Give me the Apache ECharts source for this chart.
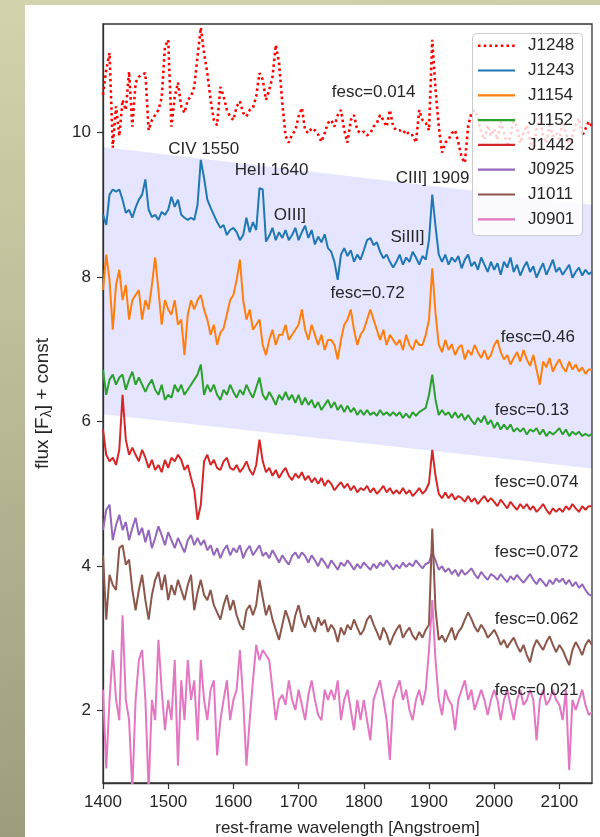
<!DOCTYPE html>
<html><head><meta charset="utf-8">
<script src="https://cdn.jsdelivr.net/npm/echarts@6/dist/echarts.min.js"></script>
<style>
html,body{margin:0;padding:0;width:600px;height:837px;overflow:hidden;}
body{background:linear-gradient(172deg,#d3d3ad 0%,#b9b995 45%,#98987a 100%);}
#panel{position:absolute;left:25px;top:5px;width:575px;height:832px;background:#fff;}
#chart{position:absolute;left:0;top:0;width:600px;height:837px;}
</style></head><body>
<div id="panel"></div><div id="chart"></div>
<script>
const wavelength = [1400,1405,1410,1415,1420,1425,1430,1435,1440,1445,
 1450,1455,1460,1465,1470,1475,1480,1485,1490,1495,
 1500,1505,1510,1515,1520,1525,1530,1535,1540,1545,
 1550,1555,1560,1565,1570,1575,1580,1585,1590,1595,
 1600,1605,1610,1615,1620,1625,1630,1635,1640,1645,
 1650,1655,1660,1665,1670,1675,1680,1685,1690,1695,
 1700,1705,1710,1715,1720,1725,1730,1735,1740,1745,
 1750,1755,1760,1765,1770,1775,1780,1785,1790,1795,
 1800,1805,1810,1815,1820,1825,1830,1835,1840,1845,
 1850,1855,1860,1865,1870,1875,1880,1885,1890,1895,
 1900,1905,1910,1915,1920,1925,1930,1935,1940,1945,
 1950,1955,1960,1965,1970,1975,1980,1985,1990,1995,
 2000,2005,2010,2015,2020,2025,2030,2035,2040,2045,
 2050,2055,2060,2065,2070,2075,2080,2085,2090,2095,
 2100,2105,2110,2115,2120,2125,2130,2135,2140,2145,
 2150];

const J1248 = [10.52,10.87,11.10,9.79,10.36,9.95,10.45,10.31,10.84,10.08,
 10.69,10.77,10.80,10.82,10.03,10.17,10.24,10.31,10.48,11.19,
 11.28,10.08,10.49,10.69,10.36,10.27,10.45,10.50,10.63,11.05,
 11.45,11.10,10.82,10.45,10.17,10.10,10.63,10.50,10.31,10.22,
 10.17,10.36,10.43,10.27,10.22,10.31,10.34,10.50,10.82,10.73,
 10.45,10.59,10.77,11.21,10.96,10.41,9.95,9.86,9.97,10.03,
 10.22,10.34,10.03,9.99,10.06,10.03,9.97,9.87,9.99,10.13,
 10.17,10.08,10.24,10.31,10.03,9.86,10.17,10.24,10.03,9.99,
 10.01,9.96,9.99,10.08,10.13,10.24,10.17,10.08,10.31,10.08,
 10.03,10.03,9.99,10.03,9.96,9.96,9.86,10.31,10.17,10.13,
 10.03,11.28,10.6,10.08,9.72,9.86,9.90,9.99,10.03,9.86,
 9.66,9.58,10.08,10.27,10.31,10.2,10.0,9.9,10.1,9.95,
 10.05,9.9,10.15,10.0,9.8,9.95,10.2,10.05,9.85,10.0,
 10.1,9.9,9.75,10.05,10.2,9.95,9.85,10.1,9.95,10.0,
 9.9,10.15,10.0,9.8,9.95,10.1,10.2,9.95,10.05,10.15,
 10.08];
const J1243 = [8.86,8.72,9.14,9.21,9.18,9.21,9.07,8.89,8.93,8.82,
 8.96,9.07,9.14,9.35,8.93,8.83,8.86,8.79,8.90,8.86,
 8.93,9.11,8.97,9.07,8.86,8.82,8.79,8.82,8.79,9.00,
 9.62,9.37,9.07,8.96,8.86,8.76,8.68,8.72,8.58,8.65,
 8.68,8.62,8.51,8.58,8.82,8.62,8.76,8.65,9.23,9.21,
 8.49,8.57,8.68,8.51,8.62,8.54,8.65,8.51,8.58,8.68,
 8.51,8.62,8.71,8.54,8.65,8.45,8.56,8.48,8.59,8.40,
 8.35,8.21,7.96,8.31,8.40,8.29,8.37,8.21,8.31,8.24,
 8.37,8.51,8.54,8.44,8.48,8.35,8.26,8.31,8.21,8.13,
 8.21,8.31,8.17,8.27,8.21,8.35,8.27,8.17,8.29,8.24,
 8.51,9.14,8.70,8.31,8.21,8.31,8.17,8.27,8.21,8.29,
 8.12,8.24,8.31,8.15,8.21,8.10,8.27,8.17,8.07,8.21,
 8.10,8.19,8.03,8.21,8.13,8.27,8.07,8.17,8.02,8.13,
 8.21,8.07,8.15,7.99,8.10,8.19,8.03,8.13,8.24,8.07,
 8.13,8.03,8.10,8.17,7.99,8.07,8.13,8.02,8.10,8.04,
 8.07];
const J1154 = [7.82,8.31,7.96,7.27,7.89,8.10,7.68,7.89,7.41,7.68,
 7.75,7.82,7.41,7.68,7.55,7.89,8.27,7.82,7.34,7.68,
 7.55,7.48,7.68,7.34,7.41,6.92,7.48,7.68,7.55,7.68,
 7.75,7.55,7.41,7.20,7.34,7.06,7.23,7.29,7.48,7.68,
 7.75,7.96,8.24,7.68,7.41,7.55,7.27,7.34,7.41,7.06,
 6.92,7.13,7.27,7.06,7.20,7.20,7.34,7.13,7.20,7.27,
 7.34,7.55,7.27,7.13,7.34,7.20,7.06,7.20,6.99,7.13,
 7.13,7.06,6.86,7.13,7.34,7.41,7.55,7.27,7.06,7.20,
 7.27,7.41,7.55,7.41,7.27,7.13,7.27,7.06,7.20,7.13,
 7.06,7.13,6.99,7.20,7.06,6.99,7.13,7.06,7.06,7.20,
 7.41,8.12,7.50,7.06,6.96,7.13,6.99,7.07,6.92,7.02,
 7.06,6.86,6.99,6.92,7.06,6.96,6.88,6.99,6.86,6.92,
 7.06,7.13,6.96,6.86,6.92,6.79,6.88,6.96,6.83,6.99,
 6.86,6.77,6.92,6.72,6.51,6.83,6.75,6.88,6.69,6.79,
 6.86,6.75,6.69,6.83,6.72,6.79,6.69,6.75,6.66,6.72,
 6.72];
const J1152 = [6.72,6.37,6.58,6.65,6.51,6.61,6.65,6.44,6.58,6.69,
 6.51,6.61,6.51,6.41,6.51,6.58,6.44,6.37,6.51,6.30,
 6.37,6.33,6.51,6.41,6.51,6.37,6.44,6.51,6.58,6.65,
 6.79,6.37,6.51,6.41,6.51,6.37,6.30,6.44,6.37,6.51,
 6.41,6.33,6.44,6.37,6.51,6.41,6.33,6.47,6.61,6.37,
 6.30,6.41,6.33,6.23,6.37,6.30,6.41,6.30,6.37,6.26,
 6.37,6.23,6.33,6.23,6.30,6.19,6.27,6.16,6.23,6.30,
 6.19,6.27,6.16,6.23,6.13,6.22,6.13,6.19,6.09,6.16,
 6.09,6.16,6.09,6.13,6.08,6.16,6.09,6.13,6.08,6.13,
 6.08,6.13,6.05,6.11,6.05,6.13,6.08,6.13,6.16,6.19,
 6.37,6.65,6.30,6.09,6.16,6.09,6.13,6.05,6.13,6.05,
 6.11,6.02,6.09,6.02,5.96,6.05,5.99,6.08,5.96,6.02,
 5.91,5.99,5.89,5.96,5.89,5.96,5.86,5.91,5.86,5.91,
 5.82,5.89,5.86,5.91,5.82,5.89,5.80,5.86,5.82,5.86,
 5.91,5.82,5.89,5.80,5.86,5.82,5.86,5.80,5.83,5.80,
 5.83];
const J1442 = [5.89,5.54,5.45,5.50,5.40,5.61,6.37,5.75,5.54,5.64,
 5.54,5.45,5.61,5.50,5.36,5.47,5.33,5.40,5.30,5.47,
 5.36,5.50,5.45,5.54,5.47,5.33,5.40,5.22,5.05,4.64,
 4.85,5.45,5.54,5.40,5.47,5.36,5.33,5.45,5.50,5.36,
 5.33,5.40,5.30,5.36,5.45,5.33,5.26,5.40,5.75,5.45,
 5.30,5.36,5.25,5.33,5.22,5.30,5.36,5.25,5.19,5.28,
 5.22,5.30,5.19,5.25,5.16,5.22,5.14,5.22,5.11,5.19,
 5.14,5.05,5.11,5.16,5.08,5.14,5.05,5.11,5.02,5.08,
 5.05,5.11,5.02,5.08,5.00,5.05,5.11,5.02,5.08,5.00,
 5.05,5.00,5.08,5.00,5.05,4.97,5.02,5.08,5.00,5.05,
 5.15,5.61,5.25,5.00,4.94,5.02,4.94,5.00,4.92,4.97,
 4.94,4.89,4.97,4.89,4.94,4.86,4.92,4.97,4.89,4.94,
 4.89,4.83,4.92,4.86,4.80,4.89,4.83,4.78,4.86,4.80,
 4.86,4.78,4.83,4.75,4.80,4.86,4.78,4.72,4.80,4.75,
 4.80,4.75,4.83,4.78,4.86,4.80,4.75,4.83,4.78,4.83,
 4.83];
const J0925 = [4.50,4.78,4.85,4.36,4.57,4.71,4.50,4.61,4.36,4.53,
 4.67,4.43,4.53,4.33,4.50,4.25,4.39,4.55,4.43,4.29,
 4.47,4.36,4.25,4.39,4.29,4.19,4.36,4.43,4.29,4.39,
 4.29,4.36,4.22,4.29,4.15,4.25,4.11,4.22,4.29,4.15,
 4.25,4.19,4.29,4.11,4.22,4.28,4.15,4.22,4.29,4.14,
 4.19,4.11,4.22,4.14,4.05,4.15,4.08,4.02,4.14,4.19,
 4.11,4.19,4.14,4.05,4.15,4.08,4.00,4.11,4.05,3.97,
 4.08,4.02,3.95,4.05,4.00,4.08,4.02,3.95,4.03,3.97,
 4.05,4.00,3.95,4.03,3.97,4.05,4.00,4.08,4.02,3.95,
 4.02,3.97,4.05,3.99,4.04,4.00,4.08,4.02,3.97,4.03,
 4.05,4.19,4.08,3.95,4.00,3.92,3.97,3.89,3.95,3.86,
 3.95,3.88,3.92,3.97,3.89,3.83,3.92,3.86,3.81,3.89,
 3.86,3.81,3.89,3.83,3.78,3.86,3.81,3.88,3.82,3.77,
 3.83,3.89,3.81,3.75,3.83,3.78,3.72,3.81,3.75,3.83,
 3.78,3.83,3.75,3.81,3.72,3.78,3.70,3.75,3.67,3.61,
 3.59];
const J1011 = [4.15,3.26,3.88,3.74,3.67,4.25,4.29,4.02,4.09,3.67,
 3.39,3.67,3.88,3.53,3.26,3.60,3.81,3.92,3.67,3.88,
 3.53,3.74,3.60,3.81,3.67,3.53,3.74,3.88,3.39,3.64,
 3.81,3.60,3.53,3.67,3.46,3.36,3.26,3.46,3.60,3.39,
 3.53,3.32,3.19,3.12,3.39,3.46,3.32,3.46,3.81,3.56,
 3.32,3.46,3.26,3.12,2.98,3.19,3.39,3.26,3.09,3.32,
 3.46,3.26,3.15,3.32,3.19,3.09,3.29,3.18,3.26,3.09,
 3.19,3.12,2.95,3.15,3.05,3.19,3.12,3.26,3.15,3.05,
 3.12,3.26,3.32,3.19,3.09,2.98,3.15,3.06,2.91,3.03,
 3.12,3.19,3.01,3.09,3.15,3.04,2.98,3.09,3.01,3.12,
 3.19,4.52,3.40,2.98,3.04,2.95,3.05,3.15,2.98,3.09,
 3.15,3.26,3.36,3.27,3.16,3.09,3.19,3.12,3.01,3.06,
 3.12,3.03,2.91,2.98,2.87,2.95,3.01,2.90,2.81,2.91,
 2.77,2.67,2.87,2.98,2.91,2.84,2.95,3.03,2.91,2.81,
 2.91,2.84,2.73,2.63,2.84,2.95,2.87,2.77,2.91,2.98,
 2.91];
const J0901 = [2.29,1.20,2.15,2.84,2.15,1.87,3.32,2.15,1.87,0.9,
 2.15,2.70,2.84,2.15,0.9,2.15,1.87,2.98,2.29,1.73,
 2.15,1.87,2.70,1.24,2.42,1.87,2.70,2.15,2.42,1.59,
 2.70,2.15,1.87,2.29,2.42,1.38,1.87,2.15,2.42,1.87,
 2.15,2.29,2.84,2.15,1.24,1.87,2.42,2.91,2.70,2.84,
 2.77,2.70,2.29,1.87,2.15,2.22,2.08,2.42,2.15,2.01,
 2.29,2.08,1.87,2.22,2.42,2.15,1.94,1.87,2.29,2.15,
 2.29,2.15,2.42,1.87,2.15,2.29,2.01,1.73,2.15,1.87,
 2.15,1.87,1.59,2.15,2.29,2.42,2.15,1.87,1.32,2.15,
 2.29,2.42,2.15,2.29,2.01,1.87,2.15,2.29,2.08,2.29,
 2.84,3.53,2.70,2.15,1.94,2.29,2.15,2.08,1.73,2.15,
 2.29,2.42,2.15,2.29,2.01,2.15,2.29,2.15,1.94,2.15,
 2.29,2.15,1.87,2.15,2.29,2.08,1.87,2.15,2.29,2.08,
 2.15,2.29,2.15,1.59,2.15,2.29,2.08,2.15,2.29,2.15,
 2.08,1.87,2.29,1.18,2.15,2.01,2.15,2.29,2.08,1.94,
 1.98];

const seriesNames = ['J1248','J1243','J1154','J1152','J1442','J0925','J1011','J0901'];
const seriesValues = [J1248,J1243,J1154,J1152,J1442,J0925,J1011,J0901];
const seriesColors = ['#ff0000','#1f77b4','#ff7f0e','#2ca02c','#d62728','#9467bd','#8c564b','#e377c2'];

const bandX = [1400, 2150];
const bandTop = [9.8, 9.0];
const bandBottom = [6.1, 5.35];

const annotations = [
 ['fesc=0.014', 1751, 10.56],
 ['CIV 1550', 1500, 9.77],
 ['HeII 1640', 1602, 9.48],
 ['OIII]', 1662, 8.86],
 ['CIII] 1909', 1849, 9.36],
 ['SiIII]', 1841, 8.55],
 ['fesc=0.72', 1749, 7.77],
 ['fesc=0.46', 2010, 7.16],
 ['fesc=0.13', 2001, 6.15],
 ['fesc=0.074', 2001, 5.16],
 ['fesc=0.072', 2001, 4.19],
 ['fesc=0.062', 2001, 3.27],
 ['fesc=0.021', 2001, 2.28]
];

const xTicks = [1400,1500,1600,1700,1800,1900,2000,2100];
const yTicks = [2,4,6,8,10];

const FONT = '"Liberation Sans", Arial, sans-serif';
const TXT = '#262626';
const DOTS = [2.5, 3.2];

const chart = echarts.init(document.getElementById('chart'), null, {renderer:'canvas'});

const lineSeries = seriesNames.map((name, k) => ({
  name: name,
  type: 'line',
  data: wavelength.map((w, i) => [w, seriesValues[k][i]]),
  showSymbol: false,
  symbol: 'none',
  silent: true,
  z: 3,
  lineStyle: k === 0
    ? {color: seriesColors[k], width: 2.6, type: DOTS, cap: 'butt'}
    : {color: seriesColors[k], width: 2.0},
  itemStyle: {color: seriesColors[k]},
  animation: false
}));

// legend box drawn as graphic elements (matplotlib-style)
const LEG = {x: 472.5, y: 33.5, w: 110, h: 202, first: 45.7, step: 24.8, lx1: 478, lx2: 515, tx: 528};
const legendGraphic = [{
  type: 'rect', z: 100,
  shape: {x: LEG.x, y: LEG.y, width: LEG.w, height: LEG.h, r: 4},
  style: {fill: 'rgba(255,255,255,0.8)', stroke: '#cccccc', lineWidth: 1}
}];
seriesNames.forEach((n, k) => {
  const y = LEG.first + k * LEG.step;
  legendGraphic.push({
    type: 'line', z: 101,
    shape: {x1: LEG.lx1, y1: y, x2: LEG.lx2, y2: y},
    style: k === 0
      ? {stroke: seriesColors[k], lineWidth: 2.6, lineDash: DOTS}
      : {stroke: seriesColors[k], lineWidth: 2.2}
  });
  legendGraphic.push({
    type: 'text', z: 101, x: LEG.tx, y: y,
    style: {text: n, fontFamily: FONT, fontSize: 17, fill: TXT, align: 'left', verticalAlign: 'middle'}
  });
});

const option = {
  backgroundColor: 'transparent',
  animation: false,
  grid: {left: 103, top: 24, right: 8, bottom: 54, outerBoundsMode: 'none', containLabel: false,
    show: true, borderColor: '#333', borderWidth: 1.3, backgroundColor: 'transparent'},
  xAxis: {
    type: 'value', min: 1400, max: 2150,
    name: 'rest-frame wavelength [Angstroem]', nameLocation: 'middle', nameGap: 37,
    nameTextStyle: {fontFamily: FONT, fontSize: 17, color: TXT},
    axisLine: {show: true, lineStyle: {color: '#333', width: 1.3}},
    axisTick: {show: true, length: 6, lineStyle: {color: '#333', width: 1.2}, customValues: xTicks},
    axisLabel: {fontFamily: FONT, fontSize: 17, color: TXT, margin: 11, customValues: xTicks, formatter: v => String(v)},
    splitLine: {show: false}
  },
  yAxis: {
    type: 'value', min: 1, max: 11.5,
    name: 'flux [F{sub|λ}] + const', nameLocation: 'middle', nameGap: 49, nameRotate: 90,
    nameTextStyle: {fontFamily: FONT, fontSize: 19, color: TXT, rich: {sub: {fontFamily: FONT, fontSize: 14, color: TXT, padding: [8,0,0,0]}}},
    axisLine: {show: true, lineStyle: {color: '#333', width: 1.3}},
    axisTick: {show: true, length: 6, lineStyle: {color: '#333', width: 1.2}, customValues: yTicks},
    axisLabel: {fontFamily: FONT, fontSize: 17, color: TXT, margin: 12, customValues: yTicks, formatter: v => String(v)},
    splitLine: {show: false}
  },
  graphic: legendGraphic,
  series: [
    {
      type: 'custom', silent: true, z: 1,
      data: [[bandX[0], bandTop[0]]],
      renderItem: function (params, api) {
        const pts = [
          api.coord([bandX[0], bandTop[0]]),
          api.coord([bandX[1], bandTop[1]]),
          api.coord([bandX[1], bandBottom[1]]),
          api.coord([bandX[0], bandBottom[0]])
        ];
        return {type: 'polygon', shape: {points: pts}, style: {fill: 'rgba(0,0,255,0.1)'}};
      }
    },
    ...lineSeries
  ]
};
chart.setOption(option);

// annotation texts placed in data coordinates through the chart's own scales
const annGraphic = annotations.map(a => {
  const p = chart.convertToPixel({gridIndex: 0}, [a[1], a[2]]);
  return {type: 'text', z: 50, x: p[0], y: p[1],
    style: {text: a[0], fontFamily: FONT, fontSize: 17, fill: TXT, align: 'left', verticalAlign: 'middle'}};
});
chart.setOption({graphic: legendGraphic.concat(annGraphic)});
</script>
</body></html>
